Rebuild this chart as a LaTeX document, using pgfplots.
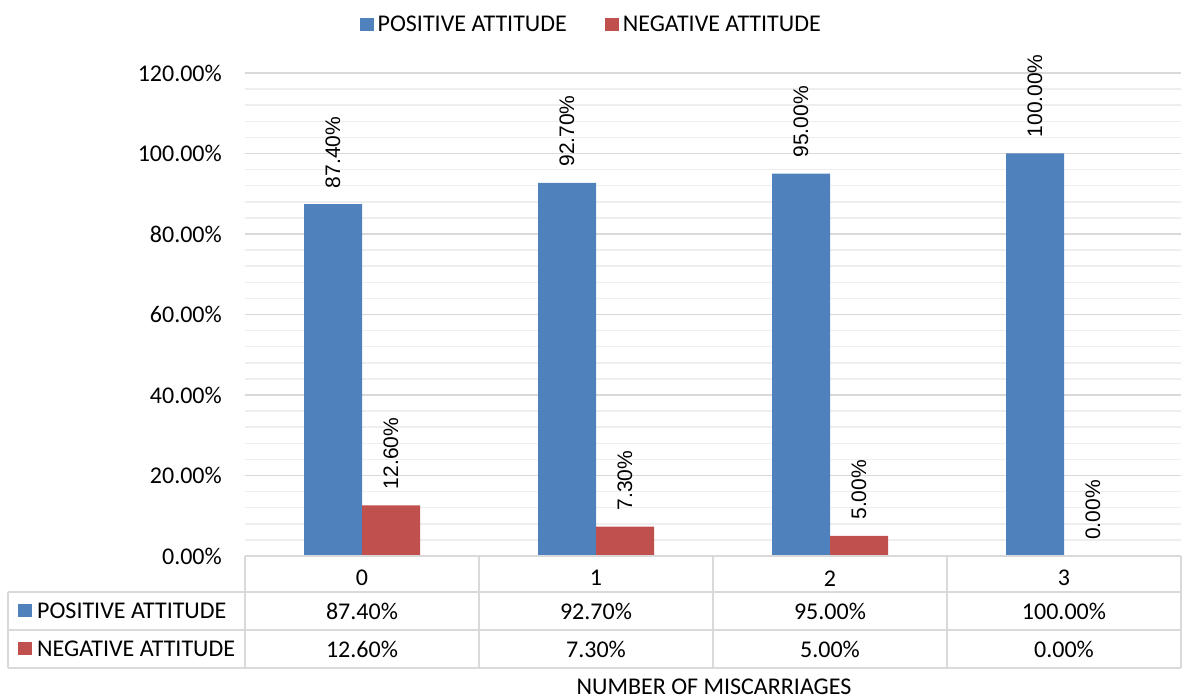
\documentclass[border=0pt]{standalone}
\usepackage{fontspec}
\setmainfont{Carlito}
\newfontfamily\lblfont{Liberation Sans}
\usepackage{pgfplots}
\pgfplotsset{compat=1.18}
\definecolor{posblue}{HTML}{4F81BD}
\definecolor{negred}{HTML}{C0504D}
\definecolor{majgrid}{HTML}{D9D9D9}
\definecolor{mingrid}{HTML}{EEEEEE}
\definecolor{tblline}{HTML}{D9D9D9}
\newcommand{\cfont}{\fontsize{24}{28}\selectfont}
\tikzset{tbl/.style={font=\cfont, inner sep=0pt}}
\begin{document}
\begin{tikzpicture}
\useasboundingbox (0,0) rectangle (1184pt,700pt);
\begin{axis}[
  at={(245pt,144pt)}, anchor=south west,
  scale only axis, width=936pt, height=483pt,
  xmin=-0.5, xmax=3.5, ymin=0, ymax=120,
  ybar, bar width=58pt,
  xtick={0,1,2,3},
  ytick={0,20,...,120},
  minor y tick num=4,
  ymajorgrids, yminorgrids,
  major grid style={majgrid, line width=1.5pt},
  minor grid style={mingrid, line width=1.5pt},
  axis line style={draw=none},
  tick style={draw=none},
  /pgf/number format/assume math mode=true,
  tick label style={font=\cfont},
  yticklabel={\pgfmathprintnumber[fixed,fixed zerofill,precision=2]{\tick}\%},
  yticklabel style={anchor=east, inner sep=0pt, xshift=-23pt},
  xticklabel style={anchor=center, inner sep=0pt, yshift=-18pt},
  nodes near coords={\pgfmathprintnumber[fixed,fixed zerofill,precision=2]{\pgfplotspointmeta}\%},
  every node near coord/.append style={rotate=90, anchor=west, inner xsep=16pt, inner ysep=0pt, font=\lblfont\fontsize{21}{25}\selectfont, text=black},
  legend style={at={(0.371,1.1)}, anchor=center, draw=none, fill=none, legend columns=2, font=\cfont, inner sep=0pt, nodes={inner xsep=4pt, inner ysep=0pt}, /tikz/every even column/.append style={column sep=34pt}},
  clip=false,
]
\addplot[fill=posblue, draw=none, bar shift=-29pt,
  legend image code/.code={\fill[posblue] (0pt,-6.5pt) rectangle (14pt,6.5pt);}]
  coordinates {(0,87.4) (1,92.7) (2,95.0) (3,100.0)};
\addplot[fill=negred, draw=none, bar shift=29pt,
  legend image code/.code={\fill[negred] (0pt,-6.5pt) rectangle (14pt,6.5pt);}]
  coordinates {(0,12.6) (1,7.3) (2,5.0) (3,0.0)};
\legend{POSITIVE ATTITUDE, NEGATIVE ATTITUDE}
\node[tbl] at (axis cs:0,0) [yshift=-55pt] {87.40\%};
\node[tbl] at (axis cs:1,0) [yshift=-55pt] {92.70\%};
\node[tbl] at (axis cs:2,0) [yshift=-55pt] {95.00\%};
\node[tbl] at (axis cs:3,0) [yshift=-55pt] {100.00\%};
\node[tbl] at (axis cs:0,0) [yshift=-93pt] {12.60\%};
\node[tbl] at (axis cs:1,0) [yshift=-93pt] {7.30\%};
\node[tbl] at (axis cs:2,0) [yshift=-93pt] {5.00\%};
\node[tbl] at (axis cs:3,0) [yshift=-93pt] {0.00\%};
\end{axis}
\begin{scope}[tblline, line width=2pt]
\draw (245pt,144pt) -- (1181pt,144pt);
\draw (8pt,107.5pt) -- (1181pt,107.5pt);
\draw (8pt,70pt) -- (1181pt,70pt);
\draw (8pt,32pt) -- (1181pt,32pt);
\draw (8pt,32pt) -- (8pt,107.5pt);
\foreach \x in {245,479,713,947,1181} \draw (\x pt,32pt) -- (\x pt,144pt);
\end{scope}
\fill[posblue] (18pt,83pt) rectangle (32pt,96pt);
\fill[negred] (18pt,45pt) rectangle (32pt,58pt);
\node[font=\cfont, inner sep=0pt, anchor=west] at (37pt,89pt) {POSITIVE ATTITUDE};
\node[font=\cfont, inner sep=0pt, anchor=west] at (37pt,51pt) {NEGATIVE ATTITUDE};
\node[font=\cfont, inner sep=0pt] at (714pt,13pt) {NUMBER OF MISCARRIAGES};
\end{tikzpicture}
\end{document}
